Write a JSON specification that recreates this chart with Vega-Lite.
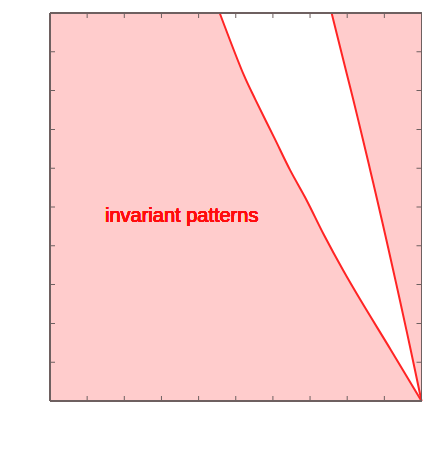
{
  "$schema": "https://vega.github.io/schema/vega-lite/v6.json",
  "width": 371.5,
  "height": 388,
  "autosize": {"type": "none"},
  "padding": {"left": 50, "top": 13, "right": 11, "bottom": 52},
  "view": {"fill": null, "stroke": null},
  "datasets": {
    "curves": [
      {"theta": 0.0, "phiL": 1.0, "phiR": 1.0},
      {"theta": 0.0655, "phiL": 0.9179, "phiR": 0.9711},
      {"theta": 0.1301, "phiL": 0.8358, "phiR": 0.9417},
      {"theta": 0.1688, "phiL": 0.7887, "phiR": 0.9237},
      {"theta": 0.2139, "phiL": 0.7376, "phiR": 0.9025},
      {"theta": 0.2591, "phiL": 0.6904, "phiR": 0.8808},
      {"theta": 0.2978, "phiL": 0.646, "phiR": 0.8618},
      {"theta": 0.3387, "phiL": 0.6042, "phiR": 0.8415},
      {"theta": 0.3881, "phiL": 0.5532, "phiR": 0.8164},
      {"theta": 0.4195, "phiL": 0.5222, "phiR": 0.8},
      {"theta": 0.5, "phiL": 0.4568, "phiR": 0.758}
    ],
    "xticks": [
      {"v": 0}, {"v": 0.1}, {"v": 0.2}, {"v": 0.3}, {"v": 0.4}, {"v": 0.5},
      {"v": 0.6}, {"v": 0.7}, {"v": 0.8}, {"v": 0.9}, {"v": 1.0}
    ],
    "yticks": [
      {"v": 0}, {"v": 0.05}, {"v": 0.1}, {"v": 0.15}, {"v": 0.2}, {"v": 0.25},
      {"v": 0.3}, {"v": 0.35}, {"v": 0.4}, {"v": 0.45}, {"v": 0.5}
    ]
  },
  "data": {"name": "curves"},
  "layer": [
    {
      "mark": {"type": "rect", "color": "#ffcccc"},
      "encoding": {
        "x": {
          "datum": 0, "type": "quantitative",
          "scale": {"domain": [0, 1], "nice": false, "zero": false},
          "axis": {
            "orient": "bottom",
            "domain": false, "grid": false, "ticks": false,
            "labelFont": "Liberation Sans", "labelFontSize": 13.5, "labelColor": "#222222",
            "values": [0, 0.1, 0.2, 0.3, 0.4, 0.5, 0.6, 0.7, 0.8, 0.9, 1.0],
            "format": ".1f",
            "labelPadding": 2,
            "labelFlush": false,
            "title": "ϕ",
            "titleFont": "Liberation Serif",
            "titleFontStyle": "italic",
            "titleFontWeight": "normal",
            "titleFontSize": 26,
            "titleColor": "#000000",
            "titleBaseline": "alphabetic",
            "titleY": 43
          }
        },
        "x2": {"datum": 1},
        "y": {
          "datum": 0, "type": "quantitative",
          "scale": {"domain": [0, 0.5], "nice": false, "zero": false},
          "axis": {
            "orient": "left",
            "domain": false, "grid": false, "ticks": false,
            "labelFont": "Liberation Sans", "labelFontSize": 13.5, "labelColor": "#222222",
            "values": [0, 0.1, 0.2, 0.3, 0.4, 0.5],
            "format": ".1f",
            "labelPadding": 5,
            "title": "θ",
            "titleFont": "Liberation Serif",
            "titleFontStyle": "italic",
            "titleFontWeight": "normal",
            "titleFontSize": 25,
            "titleColor": "#000000",
            "titleAngle": 0,
            "titleAlign": "center",
            "titleBaseline": "alphabetic",
            "titleX": -35,
            "titleY": 204
          }
        },
        "y2": {"datum": 0.5}
      }
    },
    {
      "mark": {"type": "area", "orient": "horizontal", "color": "white", "interpolate": "catmull-rom"},
      "encoding": {
        "y": {"field": "theta", "type": "quantitative", "axis": null},
        "x": {"field": "phiL", "type": "quantitative", "axis": null},
        "x2": {"field": "phiR"}
      }
    },
    {
      "mark": {"type": "line", "color": "#ff2424", "strokeWidth": 2, "interpolate": "catmull-rom"},
      "encoding": {
        "x": {"field": "phiL", "type": "quantitative", "axis": null},
        "y": {"field": "theta", "type": "quantitative", "axis": null},
        "order": {"field": "theta"}
      }
    },
    {
      "mark": {"type": "line", "color": "#ff2424", "strokeWidth": 2, "interpolate": "catmull-rom"},
      "encoding": {
        "x": {"field": "phiR", "type": "quantitative", "axis": null},
        "y": {"field": "theta", "type": "quantitative", "axis": null},
        "order": {"field": "theta"}
      }
    },
    {
      "mark": {"type": "text", "color": "#ff0d0d", "font": "Liberation Sans", "fontSize": 20, "align": "left", "baseline": "alphabetic"},
      "encoding": {
        "x": {"datum": 0.148, "type": "quantitative", "axis": null},
        "y": {"datum": 0.2303, "type": "quantitative", "axis": null},
        "text": {"value": "invariant patterns"}
      }
    },
    {
      "data": {"name": "xticks"},
      "mark": {"type": "tick", "orient": "vertical", "color": "#6e6060", "size": 10, "thickness": 1, "opacity": 1, "clip": true},
      "encoding": {
        "x": {"field": "v", "type": "quantitative", "axis": null},
        "y": {"datum": 0, "type": "quantitative", "axis": null}
      }
    },
    {
      "data": {"name": "xticks"},
      "mark": {"type": "tick", "orient": "vertical", "color": "#6e6060", "size": 10, "thickness": 1, "opacity": 1, "clip": true},
      "encoding": {
        "x": {"field": "v", "type": "quantitative", "axis": null},
        "y": {"datum": 0.5, "type": "quantitative", "axis": null}
      }
    },
    {
      "data": {"name": "yticks"},
      "mark": {"type": "tick", "orient": "horizontal", "color": "#6e6060", "size": 10, "thickness": 1, "opacity": 1, "clip": true},
      "encoding": {
        "y": {"field": "v", "type": "quantitative", "axis": null},
        "x": {"datum": 0, "type": "quantitative", "axis": null}
      }
    },
    {
      "data": {"name": "yticks"},
      "mark": {"type": "tick", "orient": "horizontal", "color": "#6e6060", "size": 10, "thickness": 1, "opacity": 1, "clip": true},
      "encoding": {
        "y": {"field": "v", "type": "quantitative", "axis": null},
        "x": {"datum": 1, "type": "quantitative", "axis": null}
      }
    },
    {
      "mark": {"type": "rect", "filled": false, "fill": null, "stroke": "#6e6060", "strokeWidth": 1},
      "encoding": {
        "x": {"datum": 0, "type": "quantitative", "axis": null},
        "x2": {"datum": 1},
        "y": {"datum": 0, "type": "quantitative", "axis": null},
        "y2": {"datum": 0.5}
      }
    }
  ]
}
